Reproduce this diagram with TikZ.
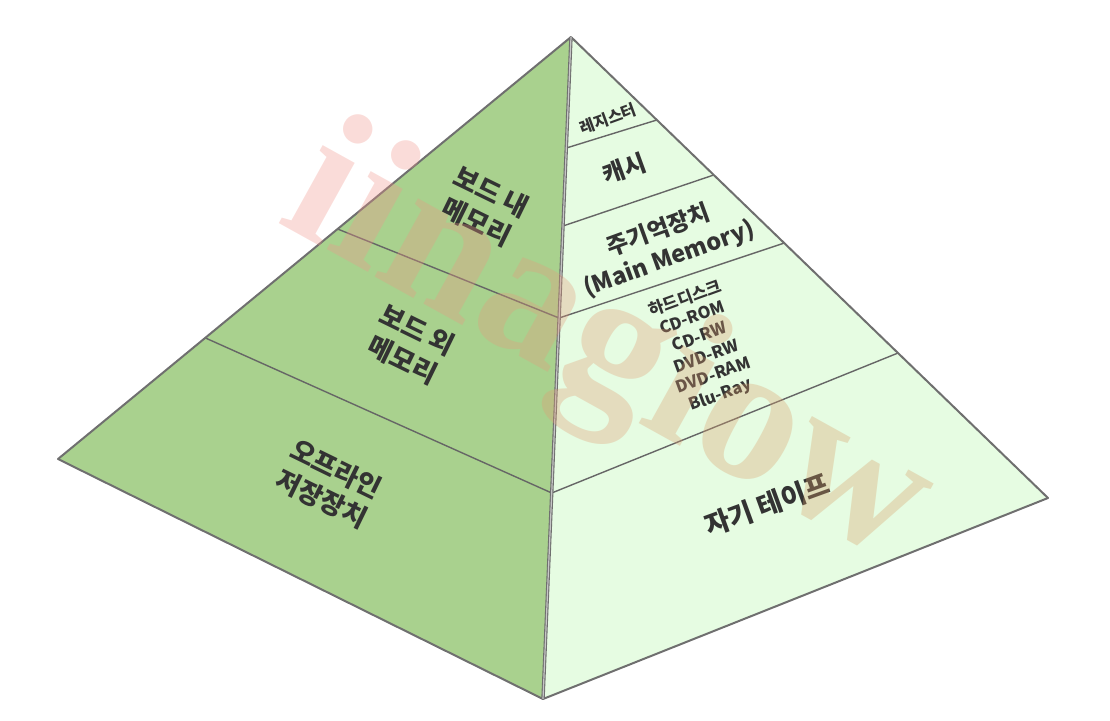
\documentclass[tikz,border=0pt]{standalone}
\usepackage{fontspec}
\usetikzlibrary{calc}
\newfontfamily\kr{Noto Sans CJK KR}
\newfontfamily\wmfont{Liberation Serif}
\definecolor{leftc}{HTML}{A9D18E}
\definecolor{rightc}{HTML}{E6FCE2}
\definecolor{edgec}{HTML}{6F6F6F}
\definecolor{bandc}{HTML}{666666}
\definecolor{txtc}{HTML}{333333}
\definecolor{wmpink}{RGB}{240,150,140}
\definecolor{wmbeige}{RGB}{215,160,105}
\begin{document}
\begin{tikzpicture}[x=1pt,y=-1pt,
  edgeline/.style={draw=edgec,line width=2pt,line join=round},
  bandline/.style={draw=bandc,line width=1.4pt},
  lefttext/.style={text=txtc,font=\kr\bfseries\fontsize{26.5}{33}\selectfont,align=center,rotate=-26,inner sep=0pt},
  righttext/.style={text=txtc,align=center,rotate=20,inner sep=0pt},
]
\useasboundingbox (0,0) rectangle (1110,720);
\coordinate (A) at (571,37);
\coordinate (L) at (58,459);
\coordinate (F) at (543,699);
\coordinate (R) at (1048,498);
% faces
\fill[leftc] (A)--(L)--(F)--cycle;
\fill[rightc] (A)--(F)--(R)--cycle;
% points on central edge
\coordinate (c1) at ($(A)!0.1677!(F)$);
\coordinate (c2) at ($(A)!0.2855!(F)$);
\coordinate (c3) at ($(A)!0.4245!(F)$);
\coordinate (c4) at ($(A)!0.6888!(F)$);
% points on right edge
\coordinate (r1) at ($(A)!0.180!(R)$);
\coordinate (r2) at ($(A)!0.2993!(R)$);
\coordinate (r3) at ($(A)!0.447!(R)$);
\coordinate (r4) at ($(A)!0.6855!(R)$);
% points on left edge
\coordinate (l1) at ($(A)!0.455!(L)$);
\coordinate (l2) at ($(A)!0.713!(L)$);
% band lines
\draw[bandline] (c1)--(r1);
\draw[bandline] (c2)--(r2);
\draw[bandline] (c3)--(r3);
\draw[bandline] (c4)--(r4);
\draw[bandline] (l1)--(c3);
\draw[bandline] (l2)--(c4);
% outline
\draw[edgeline] (A)--(L)--(F)--(R)--cycle;
\draw[draw=edgec,line width=3.4pt] (A)--(F);
\draw[draw=gray!45,line width=1.2pt] (A)--(F);
% left texts
\node[lefttext] (t1) at (484,207) {보드 내\\메모리};
\node[lefttext] (t2) at (410,345) {보드 외\\메모리};
\node[lefttext] (t3) at (329,484) {오프라인\\저장장치};
% right texts
\node[righttext,font=\kr\bfseries\fontsize{16}{18}\selectfont] (t4) at (608,119) {레지스터};
\node[righttext,font=\kr\bfseries\fontsize{24}{28}\selectfont] (t5) at (624,169) {캐시};
\node[righttext,font=\kr\bfseries\fontsize{23.5}{30}\selectfont] (t6) at (664,245) {주기억장치\\(Main Memory)};
\node[righttext,font=\kr\bfseries\fontsize{16.5}{20.4}\selectfont] (t7) at (703,347) {하드디스크\\CD-ROM\\CD-RW\\DVD-RW\\DVD-RAM\\Blu-Ray};
\node[righttext,font=\kr\bfseries\fontsize{27}{32}\selectfont] (t8) at (767,505) {자기 테이프};
% watermark
\node[rotate=-29,text opacity=0.33,inner sep=0pt,font=\wmfont\bfseries\fontsize{195}{195}\selectfont] (wm) at (606,352)
  {{\color{wmpink}ii}{\color{wmpink!75!wmbeige}n}{\color{wmpink!55!wmbeige}a}{\color{wmpink!35!wmbeige}g}{\color{wmpink!20!wmbeige}i}{\color{wmpink!10!wmbeige}o}{\color{wmbeige}w}};
\end{tikzpicture}
\end{document}
